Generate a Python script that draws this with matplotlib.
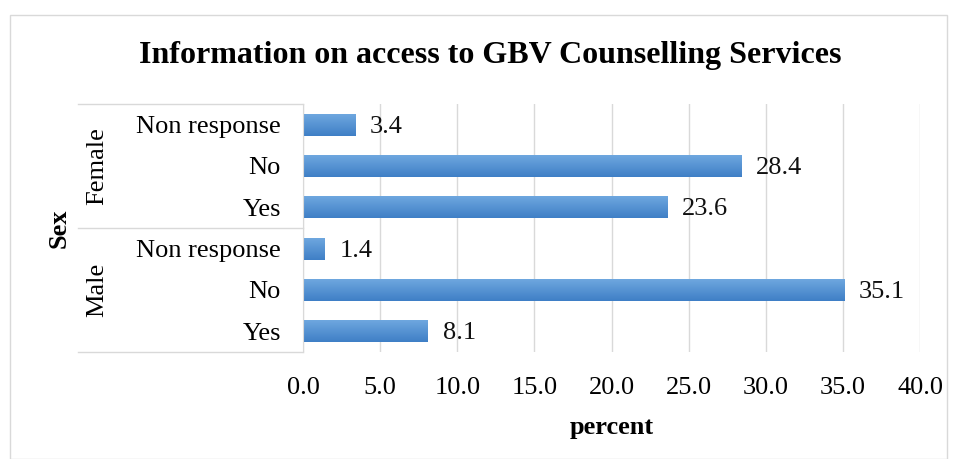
import matplotlib.pyplot as plt
import numpy as np
from matplotlib.patches import Rectangle
from matplotlib.colors import LinearSegmentedColormap

plt.rcParams['font.family'] = ['Liberation Serif', 'DejaVu Serif']

groups = ['Male', 'Female']
answers = ['Yes', 'No', 'Non response']
male = [8.1, 35.1, 1.4]
female = [23.6, 28.4, 3.4]
xticks = [0, 5, 10, 15, 20, 25, 30, 35, 40]

values = male + female
labels = answers + answers
fs = 19

fig = plt.figure(figsize=(9.57, 4.59), dpi=100)
# outer chart border
fig.add_artist(Rectangle((10 / 957, 0.0), 937 / 957, 1 - 15 / 459, transform=fig.transFigure,
                         fill=False, edgecolor='#d9d9d9', linewidth=1))

ax = fig.add_axes([303 / 957, 1 - 352 / 459, (920 - 303) / 957, (352 - 104) / 459])
y = np.arange(len(values))
bars = ax.barh(y, values, height=0.53, color='#5b9bd5', zorder=2)

# vertical gradient for each bar
grad = np.linspace(0, 1, 64).reshape(-1, 1)
cmap = LinearSegmentedColormap.from_list('b', ['#3f7fc6', '#6ea7df'])
for b in bars:
    b.set_facecolor('none')
    b.set_edgecolor('none')
    x0, y0 = b.get_x(), b.get_y()
    w, h = b.get_width(), b.get_height()
    im = ax.imshow(grad, cmap=cmap, aspect='auto', extent=(x0, x0 + w, y0, y0 + h),
                   origin='lower', zorder=2, interpolation='bicubic')
    im.set_clip_path(b)

for yi, v in zip(y, values):
    ax.text(v + 0.95, yi - 0.05, f'{v:.1f}', va='center', ha='left', fontsize=fs, color='#111111')

ax.set_xlim(0, 40)
ax.set_ylim(-0.5, len(values) - 0.5)
ax.set_xticks(xticks)
ax.set_xticklabels([f'{t:.1f}' for t in xticks], fontsize=fs)
ax.set_yticks(y)
ax.set_yticklabels(labels, fontsize=fs)
ax.tick_params(length=0)
ax.tick_params(axis='x', pad=18)
ax.tick_params(axis='y', pad=16)
ax.grid(axis='x', color='#d9d9d9', linewidth=1, zorder=0)
for s in ['top', 'right', 'bottom']:
    ax.spines[s].set_visible(False)
ax.spines['left'].set_color('#d9d9d9')
ax.set_xlabel('percent', fontsize=fs, fontweight='bold', labelpad=12)

# category box for the two-level axis
bx = ax.get_yaxis_transform()
lx = (78 - 303) / (920 - 303)
for yy in [-0.5, 2.5, 5.5]:
    ax.plot([lx, 0], [yy, yy], transform=bx, color='#d9d9d9', linewidth=1, clip_on=False)
for gi, g in enumerate(groups):
    ax.text((97 - 303) / (920 - 303), gi * 3 + 1, g, transform=bx, rotation=90,
            ha='center', va='center', fontsize=fs)
ax.text((59 - 303) / (920 - 303), 2.5, 'Sex', transform=bx, rotation=90,
        ha='center', va='center', fontsize=fs, fontweight='bold')

fig.suptitle('Information on access to GBV Counselling Services', fontsize=23,
             fontweight='bold', x=490 / 957, y=1 - 56 / 459, va='center')

fig.savefig('out.png', dpi=100)
